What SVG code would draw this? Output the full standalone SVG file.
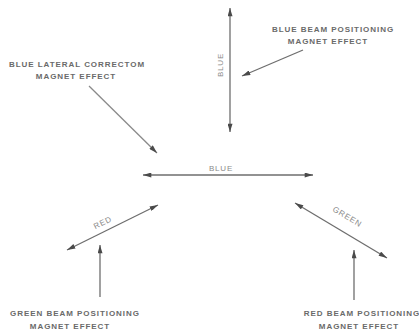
<svg xmlns="http://www.w3.org/2000/svg" width="419" height="330" viewBox="0 0 419 330">
<style>
.ln{stroke:#6e6e6e;stroke-width:1.3;fill:none}
.lbl{font-family:"Liberation Sans",Arial,sans-serif;font-size:8px;font-weight:bold;fill:#6a6a6a;letter-spacing:0.95px;text-anchor:middle}
.vl{font-family:"Liberation Sans",Arial,sans-serif;font-size:8px;fill:#8a8a8a;letter-spacing:0.8px;text-anchor:middle}
</style>
<defs>
<marker id="ah" viewBox="0 0 10 6" refX="10" refY="3" markerWidth="9" markerHeight="5" markerUnits="userSpaceOnUse" orient="auto-start-reverse">
<path d="M0,0 L10,3 L0,6 Z" fill="#4a4a4a"/>
</marker>
</defs>
<rect width="419" height="330" fill="#ffffff"/>
<g id="connectors">
<line id="blue-vertical" class="ln" x1="230" y1="8" x2="230" y2="132" marker-start="url(#ah)" marker-end="url(#ah)"/>
<line id="blue-horizontal" class="ln" x1="143" y1="175" x2="313" y2="175" marker-start="url(#ah)" marker-end="url(#ah)"/>
<line id="red-line" class="ln" x1="67" y1="250" x2="158" y2="205" marker-start="url(#ah)" marker-end="url(#ah)"/>
<line id="green-line" class="ln" x1="295" y1="203" x2="387" y2="258" marker-start="url(#ah)" marker-end="url(#ah)"/>
<line id="blue-beam-arrow" class="ln" x1="303" y1="50" x2="242" y2="76" marker-end="url(#ah)"/>
<line id="blue-lateral-arrow" class="ln" x1="89" y1="86" x2="157" y2="153" marker-end="url(#ah)" style="stroke:#8a8a8a"/>
<line id="green-beam-arrow" class="ln" x1="100" y1="297" x2="100" y2="245" marker-end="url(#ah)"/>
<line id="red-beam-arrow" class="ln" x1="354" y1="300" x2="354" y2="250" marker-end="url(#ah)"/>
</g>
<g id="label-blue-vertical"><text class="vl" transform="translate(223,65) rotate(-90)">BLUE</text></g>
<g id="label-blue-horizontal"><text class="vl" x="221" y="171">BLUE</text></g>
<g id="label-red"><text class="vl" transform="translate(104,225) rotate(-26.5)">RED</text></g>
<g id="label-green"><text class="vl" transform="translate(346,219) rotate(31)">GREEN</text></g>
<g id="blue-lateral">
<text class="lbl" x="77" y="67">BLUE LATERAL CORRECTOM</text>
<text class="lbl" x="76" y="79">MAGNET EFFECT</text>
</g>
<g id="blue-beam">
<text class="lbl" x="333" y="32">BLUE BEAM POSITIONING</text>
<text class="lbl" x="328" y="44">MAGNET EFFECT</text>
</g>
<g id="green-beam">
<text class="lbl" x="75" y="316">GREEN BEAM POSITIONING</text>
<text class="lbl" x="70" y="329">MAGNET EFFECT</text>
</g>
<g id="red-beam">
<text class="lbl" x="362" y="316">RED BEAM POSITIONING</text>
<text class="lbl" x="359" y="329">MAGNET EFFECT</text>
</g>
</svg>
